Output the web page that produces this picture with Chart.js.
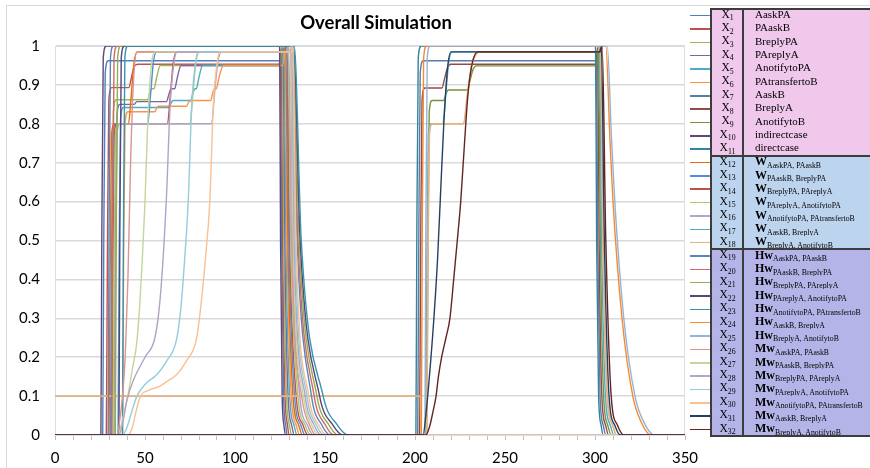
<!DOCTYPE html>
<html>
<head>
<meta charset="utf-8">
<title>Overall Simulation</title>
<script src="https://cdn.jsdelivr.net/npm/chart.js@4.4.1/dist/chart.umd.min.js"></script>
<style>
  body { margin: 0; background: #fff; }
  #wrap { position: relative; width: 870px; height: 468px; overflow: hidden; background: #fff; }
  #frame { position: absolute; left: 6px; top: 5px; width: 900px; height: 500px; border: 1.5px solid #d9d9d9; box-sizing: border-box; }
  #chart { position: absolute; left: 0; top: 0; }
  #legend { position: absolute; left: 0; top: 0; width: 870px; height: 468px; font-family: "Liberation Serif", "Times New Roman", serif; color: #000; }
  .row { position: absolute; left: 712px; width: 160px; display: flex; align-items: center; box-sizing: border-box; padding-bottom: 3px; line-height: 1; }
  .id { width: 31px; text-align: center; font-size: 11.5px; }
  .name { padding-left: 12px; font-size: 11px; white-space: nowrap; }
  .kind { font-weight: bold; font-size: 12px; }
  .sub { font-size: 7.8px; position: relative; top: 2.5px; }
  .swatch { position: absolute; left: 690px; width: 22px; height: 1.5px; }
  .rule { position: absolute; background: #3c3c3c; }
</style>
</head>
<body>
<div id="wrap">
  <div id="frame"></div>
  <canvas id="chart" width="870" height="468"></canvas>
  <div id="legend"></div>
</div>
<script>
// each series: [time, value] pairs
// indirect case (first pulse)
const x1 = [[0,0],[26.5,0],[27.1,0.5],[27.9,0.93],[29.5,0.962],[125.3,0.962],[125.9,0.5],[127,0.1],[128.2,0.025],[129,0],[350,0]];
const x2 = [[0,0],[28.5,0],[29.1,0.45],[29.9,0.86],[31.5,0.893],[41,0.893],[42.5,0.92],[44,0.947],[46,0.953],[124.5,0.953],[125.8,0.995],[126.5,0.5],[127.8,0.1],[129.2,0.025],[130,0],[350,0]];
const x3 = [[0,0],[31,0],[31.6,0.45],[32.4,0.83],[34,0.862],[51.5,0.862],[52.5,0.878],[53.8,0.89],[55,0.89],[56.5,0.92],[58.5,0.95],[125,0.95],[126.3,0.995],[127.1,0.5],[128.6,0.1],[130.3,0.025],[131.5,0],[350,0]];
const x4 = [[0,0],[33,0],[33.6,0.45],[34.4,0.82],[36,0.85],[44,0.85],[45.5,0.857],[62,0.857],[63.2,0.875],[64.5,0.89],[66.5,0.89],[68,0.92],[70,0.95],[125.5,0.95],[126.8,0.995],[127.7,0.5],[129.5,0.1],[131.5,0.025],[133,0],[350,0]];
const x5 = [[0,0],[35,0],[35.6,0.45],[36.4,0.81],[38,0.842],[63,0.842],[64.5,0.853],[65.5,0.86],[75.5,0.86],[76.5,0.877],[77.8,0.89],[78.5,0.89],[80,0.92],[82,0.95],[126,0.95],[127.3,0.995],[128.3,0.5],[130.4,0.1],[132.8,0.025],[134.5,0],[350,0]];
const x6 = [[0,0],[37.5,0],[38.1,0.45],[38.9,0.8],[40.5,0.831],[55.5,0.831],[56.5,0.84],[57.5,0.845],[73,0.845],[74.2,0.855],[75.5,0.86],[86.5,0.86],[87.5,0.877],[88.6,0.89],[89.5,0.89],[91.2,0.92],[93.5,0.95],[126.5,0.95],[127.8,0.995],[128.9,0.5],[131.3,0.1],[134,0.025],[136,0],[350,0]];
// direct case (second pulse)
const x7 = [[0,0],[201.5,0],[202.1,0.5],[202.9,0.93],[204.5,0.962],[300.8,0.962],[301.5,0.5],[302.8,0.1],[304.6,0.025],[306,0],[350,0]];
const x8 = [[0,0],[202.5,0],[203.1,0.45],[203.9,0.86],[205.5,0.892],[215,0.892],[216.5,0.918],[218.2,0.945],[220,0.953],[300.3,0.953],[301.5,0.995],[302.3,0.5],[303.8,0.1],[305.9,0.025],[307.5,0],[350,0]];
const x9 = [[0,0],[206.5,0],[207.1,0.45],[207.9,0.83],[209.5,0.86],[216,0.86],[217.2,0.877],[218.5,0.887],[229,0.887],[230.5,0.91],[232.3,0.94],[234,0.949],[300.7,0.949],[302,0.995],[303,0.5],[304.8,0.1],[307.1,0.025],[309,0],[350,0]];
const x10 = [[0,0],[25.5,0],[26,0.5],[26.8,0.97],[28.5,1],[124.8,1],[125.3,0.5],[126.2,0.1],[127.2,0.025],[128,0],[350,0]];
const x11 = [[0,0],[200.5,0],[201,0.5],[201.8,0.97],[203.5,1],[300.3,1],[300.9,0.5],[302,0.1],[303.4,0.025],[304.5,0],[350,0]];
// W
const x12 = [[0,0],[30,0],[30.6,0.4],[31.4,0.77],[33,0.8],[40.8,0.8],[42.3,0.87],[44,0.96],[45.8,0.985],[127,0.985],[128.2,0.998],[129.4,0.5],[132.2,0.1],[135.4,0.025],[137.5,0],[350,0]];
const x13 = [[0,0],[30.8,0],[31.4,0.4],[32.2,0.77],[33.8,0.8],[51.5,0.8],[53,0.87],[54.7,0.96],[56.5,0.985],[127.4,0.985],[128.6,0.998],[129.9,0.5],[133.1,0.1],[136.6,0.025],[139,0],[350,0]];
const x14 = [[0,0],[31.5,0],[32.1,0.4],[32.9,0.77],[34.5,0.8],[62.5,0.8],[64,0.87],[65.8,0.96],[67.8,0.985],[127.8,0.985],[129,0.998],[130.4,0.5],[134,0.1],[137.8,0.025],[140.5,0],[350,0]];
const x15 = [[0,0],[32.2,0],[32.8,0.4],[33.6,0.77],[35.2,0.8],[75,0.8],[76.5,0.87],[78.3,0.96],[80.3,0.985],[128.2,0.985],[129.4,0.998],[130.9,0.5],[135,0.1],[139,0.025],[142,0],[350,0]];
const x16 = [[0,0],[33,0],[33.6,0.4],[34.4,0.77],[36,0.8],[87,0.8],[88.5,0.87],[90.5,0.96],[92.8,0.985],[128.6,0.985],[129.8,0.998],[131.4,0.5],[136,0.1],[140.3,0.025],[143.5,0],[350,0]];
const x17 = [[0,0],[206,0],[206.6,0.4],[207.4,0.77],[209,0.8],[215.5,0.8],[217,0.87],[218.8,0.96],[220.8,0.985],[301.3,0.985],[302.5,0.998],[303.7,0.5],[305.8,0.1],[308.5,0.025],[310.5,0],[350,0]];
const x18 = [[0,0.1],[203,0.1],[203.4,0],[206.5,0],[207.1,0.4],[207.9,0.77],[209.5,0.8],[227,0.8],[229,0.87],[231.5,0.95],[234,0.98],[236,0.985],[301.8,0.985],[303,0.998],[304.4,0.5],[306.8,0.1],[309.8,0.025],[312,0],[350,0]];
// Hw
const x19 = [[0,0],[29.5,0],[30,0.5],[30.8,0.97],[32.5,1],[131.7,1],[134.5,0.5],[142.5,0.1],[148.3,0.025],[153,0],[350,0]];
const x20 = [[0,0],[31.5,0],[32,0.5],[32.8,0.97],[34.5,1],[132,1],[135,0.5],[144,0.1],[150.3,0.025],[155,0],[350,0]];
const x21 = [[0,0],[33.5,0],[34,0.5],[34.8,0.97],[36.5,1],[132.3,1],[135.6,0.5],[145.5,0.1],[152.3,0.025],[157.5,0],[350,0]];
const x22 = [[0,0],[35.5,0],[36,0.5],[36.8,0.97],[38.5,1],[132.6,1],[136.2,0.5],[147,0.1],[154.5,0.025],[160,0],[350,0]];
const x23 = [[0,0],[37.5,0],[38,0.5],[38.8,0.97],[40.5,1],[132.9,1],[136.8,0.5],[149,0.1],[157,0.025],[163,0],[350,0]];
const x24 = [[0,0],[203.5,0],[204,0.5],[204.8,0.97],[206.5,1],[306,1],[308.3,0.76],[310,0.6],[315,0.3],[321,0.1],[326,0.03],[331,0],[350,0]];
const x25 = [[0,0],[205.5,0],[206,0.5],[206.8,0.97],[208.5,1],[306.8,1],[309.2,0.76],[311,0.6],[316,0.3],[322.2,0.1],[327.5,0.03],[333,0],[350,0]];
// Mw
const x26 = [[0,0],[34.5,0],[36,0.04],[37.5,0.1],[39,0.2],[40.5,0.4],[42,0.7],[43.5,0.9],[45.5,0.985],[130.2,0.985],[131,0.998],[131.9,0.5],[137,0.1],[141.5,0.025],[145,0],[350,0]];
const x27 = [[0,0],[35,0],[37,0.03],[39,0.07],[40.7,0.107],[43,0.17],[45.4,0.236],[47,0.33],[48.5,0.45],[50,0.6],[51.5,0.8],[53.5,0.95],[55.5,0.985],[130.5,0.985],[131.3,0.998],[132.4,0.5],[138,0.1],[142.7,0.025],[146.5,0],[350,0]];
const x28 = [[0,0],[35.5,0],[38,0.04],[40,0.09],[43.5,0.14],[50,0.2],[55.5,0.25],[58,0.33],[60,0.45],[62,0.62],[64,0.85],[66.5,0.97],[68,0.985],[130.8,0.985],[131.6,0.998],[132.9,0.5],[139,0.1],[144,0.025],[148,0],[350,0]];
const x29 = [[0,0],[37.5,0],[40,0.02],[42,0.05],[45.5,0.1],[50,0.13],[56.5,0.155],[62,0.19],[67.5,0.245],[70,0.33],[72,0.45],[74,0.6],[76,0.85],[78.5,0.97],[80,0.985],[131.1,0.985],[131.9,0.998],[133.4,0.5],[140,0.1],[145.3,0.025],[149.5,0],[350,0]];
const x30 = [[0,0],[40.5,0],[43,0.02],[45,0.06],[47.5,0.1],[52,0.115],[58,0.125],[63,0.14],[67.5,0.155],[73,0.19],[78.5,0.245],[81,0.33],[83.5,0.45],[86,0.6],[88,0.85],[90.5,0.97],[92,0.985],[131.4,0.985],[132.2,0.998],[133.9,0.5],[141,0.1],[146.6,0.025],[151,0],[350,0]];
const x31 = [[0,0],[204.5,0],[206,0.05],[208,0.15],[210.5,0.3],[212.5,0.45],[214,0.6],[216,0.8],[218,0.94],[220,0.985],[302.5,0.985],[303.5,0.998],[305.2,0.5],[307.8,0.1],[311,0.025],[314,0],[350,0]];
const x32 = [[0,0],[206,0],[208,0.02],[210,0.06],[211.7,0.1],[213,0.15],[214.8,0.2],[217.2,0.25],[219.4,0.3],[221.5,0.4],[223.5,0.5],[225.4,0.6],[227.5,0.75],[229.5,0.88],[232,0.96],[235,0.985],[303,0.985],[304,0.998],[306,0.5],[309,0.1],[312.5,0.025],[316,0],[350,0]];

const seriesData = [x1, x2, x3, x4, x5, x6, x7, x8, x9, x10, x11, x12, x13, x14, x15, x16,
  x17, x18, x19, x20, x21, x22, x23, x24, x25, x26, x27, x28, x29, x30, x31, x32];

const plainNames = ["AaskPA", "PAaskB", "BreplyPA", "PAreplyA", "AnotifytoPA", "PAtransfertoB",
  "AaskB", "BreplyA", "AnotifytoB", "indirectcase", "directcase"];
const pairNames = ["AaskPA, PAaskB", "PAaskB, BreplyPA", "BreplyPA, PAreplyA", "PAreplyA, AnotifytoPA",
  "AnotifytoPA, PAtransfertoB", "AaskB, BreplyA", "BreplyA, AnotifytoB"];
const weightKinds = ["W", "Hw", "Mw"];

const xTicks = [0, 50, 100, 150, 200, 250, 300, 350];

const seriesColors = [
  "#4f81bd", "#c0504d", "#9bbb59", "#8064a2", "#4bacc6", "#f79646",
  "#5b7ca8", "#944a48", "#77933c", "#5f497a", "#31859c",
  "#e46c0a", "#558ed5", "#c0504d", "#aacb66", "#b3a2c7", "#4bacc6", "#e4b383",
  "#5a86bf", "#cd6b68", "#8fb04e", "#5a4382", "#3796ae", "#f68a32", "#95b3d7",
  "#d99694", "#c3d69b", "#b3a2c7", "#93cddd", "#fac090", "#254061", "#632523",
];
const sectionColors = ["#f0c8ec", "#bdd4ee", "#b4b4e8"];

document.addEventListener("DOMContentLoaded", () => {
  const plotBorder = {
    id: "plotBorder",
    beforeDatasetsDraw(chart) {
      const { ctx, chartArea: a } = chart;
      ctx.save();
      ctx.strokeStyle = "#d6dee9";
      ctx.lineWidth = 1;
      ctx.strokeRect(a.left + 0.5, a.top + 0.5, a.width - 1, a.height);
      ctx.restore();
    },
  };

  // title centred over the plot area, like the original
  const plotTitle = {
    id: "plotTitle",
    afterDraw(chart) {
      const { ctx, chartArea: a } = chart;
      ctx.save();
      ctx.font = "bold 18.5px Lato";
      ctx.fillStyle = "#000";
      ctx.textAlign = "center";
      ctx.textBaseline = "middle";
      ctx.fillText("Overall Simulation", (a.left + a.right) / 2 + 6, 23);
      ctx.restore();
    },
  };

  const datasets = seriesData.map((points, i) => ({
    label: "X" + (i + 1),
    data: points.map(([x, y]) => ({ x, y })),
    borderColor: seriesColors[i],
    borderWidth: i === 17 ? 1.8 : 1.4,
    pointRadius: 0,
    fill: false,
    cubicInterpolationMode: "monotone",
    order: seriesData.length - i,
  }));

  new Chart(document.getElementById("chart"), {
    type: "line",
    data: { datasets },
    options: {
      responsive: false,
      animation: false,
      devicePixelRatio: 1,
      layout: { padding: { left: 6, right: 185, top: 46, bottom: 0 } },
      plugins: { legend: { display: false }, tooltip: { enabled: false }, title: { display: false } },
      scales: {
        x: {
          type: "linear",
          min: 0,
          max: 350,
          afterFit: (s) => { s.height = 33; },
          ticks: {
            stepSize: 10,
            autoSkip: false,
            maxRotation: 0,
            padding: 9,
            color: "#000",
            font: { family: "Lato", size: 15 },
            callback: (v) => (xTicks.includes(v) ? v : ""),
          },
          grid: { drawOnChartArea: false, drawTicks: true, tickLength: 5, color: "#bfbfbf" },
          border: { color: "#d9d9d9" },
        },
        y: {
          min: 0,
          max: 1,
          afterFit: (s) => { s.width = 49; },
          ticks: {
            stepSize: 0.1,
            padding: 15,
            color: "#000",
            font: { family: "Lato", size: 15 },
            callback: (v) => String(Number(v.toFixed(1))),
          },
          grid: { color: "#d9d9d9", lineWidth: 1.5, drawTicks: false },
          border: { color: "#cdd6e3" },
        },
      },
    },
    plugins: [plotBorder, plotTitle],
  });

  // legend table on the right
  const legend = document.getElementById("legend");
  const rowH = 13.35;
  const legTop = 9;
  seriesData.forEach((_, i) => {
    const top = legTop + i * rowH;
    const section = i < 11 ? 0 : i < 18 ? 1 : 2;
    const row = document.createElement("div");
    row.className = "row";
    row.style.top = top + "px";
    row.style.height = rowH + 0.5 + "px";
    row.style.background = sectionColors[section];
    let name;
    if (i < 11) {
      name = plainNames[i];
    } else {
      const k = Math.floor((i - 11) / 7);
      name = `<span class="kind">${weightKinds[k]}</span><span class="sub">${pairNames[(i - 11) % 7]}</span>`;
    }
    row.innerHTML = `<div class="id">X<span class="sub">${i + 1}</span></div><div class="name">${name}</div>`;
    legend.appendChild(row);

    const swatch = document.createElement("div");
    swatch.className = "swatch";
    swatch.style.top = top + rowH / 2 - 0.75 + "px";
    swatch.style.background = seriesColors[i];
    legend.appendChild(swatch);
  });

  const rule = (left, top, width, height) => {
    const d = document.createElement("div");
    d.className = "rule";
    Object.assign(d.style, { left: left + "px", top: top + "px", width: width + "px", height: height + "px" });
    legend.appendChild(d);
  };
  const legBottom = legTop + seriesData.length * rowH;
  rule(710, legTop - 1, 170, 2);
  rule(710, legBottom - 1, 170, 2);
  rule(710, legTop - 1, 2, legBottom - legTop + 2);
  rule(742, legTop - 1, 2, legBottom - legTop + 2);
  rule(710, legTop + 11 * rowH - 1, 170, 2);
  rule(710, legTop + 18 * rowH - 1, 170, 2);
});
</script>
</body>
</html>
